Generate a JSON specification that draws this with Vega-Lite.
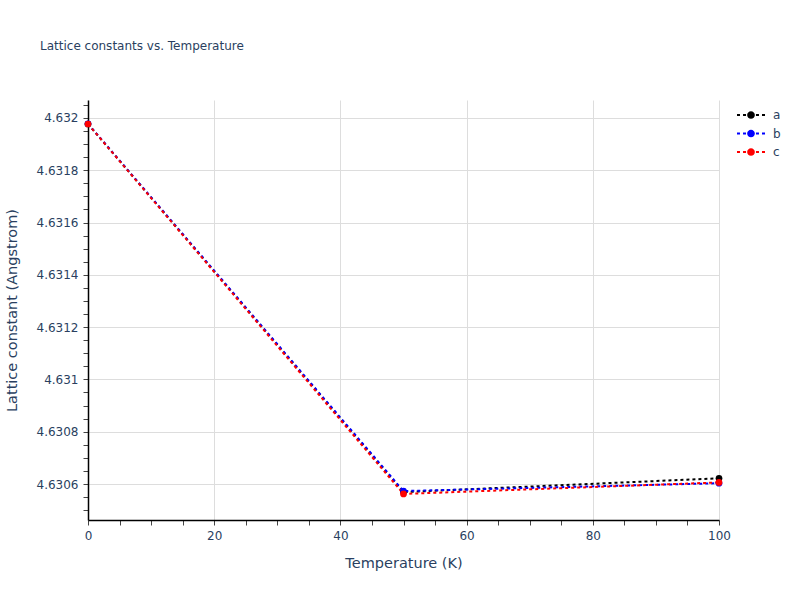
{
  "$schema": "https://vega.github.io/schema/vega-lite/v6.json",
  "width": 631,
  "height": 420,
  "autosize": "none",
  "padding": {"left": 88, "top": 100, "right": 81, "bottom": 80},
  "background": "white",
  "title": {
    "text": "Lattice constants vs. Temperature",
    "anchor": "start",
    "frame": "group",
    "dx": -48,
    "offset": 41,
    "baseline": "middle",
    "font": "DejaVu Sans",
    "fontSize": 12,
    "fontWeight": "normal",
    "color": "#2a3f5f"
  },
  "config": {
    "view": {"stroke": null},
    "font": "DejaVu Sans"
  },
  "data": {
    "values": [
      {"temperature": 0, "series": "a", "lattice": 4.631977},
      {"temperature": 50, "series": "a", "lattice": 4.630569},
      {"temperature": 100, "series": "a", "lattice": 4.630622},
      {"temperature": 0, "series": "b", "lattice": 4.631978},
      {"temperature": 50, "series": "b", "lattice": 4.630573},
      {"temperature": 100, "series": "b", "lattice": 4.630603},
      {"temperature": 0, "series": "c", "lattice": 4.631977},
      {"temperature": 50, "series": "c", "lattice": 4.630562},
      {"temperature": 100, "series": "c", "lattice": 4.630606}
    ]
  },
  "mark": {
    "type": "line",
    "strokeWidth": 2,
    "strokeDash": [3, 3],
    "clip": false,
    "point": {"filled": true, "size": 45, "opacity": 1}
  },
  "encoding": {
    "x": {
      "field": "temperature",
      "type": "quantitative",
      "scale": {"domain": [0, 100], "nice": false},
      "axis": {
        "title": "Temperature (K)",
        "values": [0, 5, 10, 15, 20, 25, 30, 35, 40, 45, 50, 55, 60, 65, 70, 75, 80, 85, 90, 95, 100],
        "labelExpr": "datum.value % 20 == 0 ? datum.label : ''",
        "labelOverlap": false,
        "labelFlush": false,
        "gridOpacity": {"condition": {"test": "datum.value % 20 == 0", "value": 1}, "value": 0},
        "gridColor": "#dddddd",
        "tickColor": "#444444",
        "tickSize": 5,
        "domainColor": "#000000",
        "domainWidth": 1.5,
        "labelFont": "DejaVu Sans",
        "labelFontSize": 12,
        "labelColor": "#2a3f5f",
        "labelPadding": 5,
        "titleFont": "DejaVu Sans",
        "titleFontSize": 14.5,
        "titleFontWeight": "normal",
        "titleColor": "#2a3f5f",
        "titleBaseline": "middle",
        "titleY": 43
      }
    },
    "y": {
      "field": "lattice",
      "type": "quantitative",
      "scale": {"domain": [4.6304623, 4.6320688], "nice": false, "zero": false},
      "axis": {
        "title": "Lattice constant (Angstrom)",
        "values": [4.6305, 4.63055, 4.6306, 4.63065, 4.6307, 4.63075, 4.6308, 4.63085, 4.6309, 4.63095, 4.631, 4.63105, 4.6311, 4.63115, 4.6312, 4.63125, 4.6313, 4.63135, 4.6314, 4.63145, 4.6315, 4.63155, 4.6316, 4.63165, 4.6317, 4.63175, 4.6318, 4.63185, 4.6319, 4.63195, 4.632, 4.63205],
        "format": "~g",
        "labelExpr": "round(datum.value * 100000) % 20 == 0 ? datum.label : ''",
        "labelOverlap": false,
        "labelFlush": false,
        "gridOpacity": {"condition": {"test": "round(datum.value * 100000) % 20 == 0", "value": 1}, "value": 0},
        "gridColor": "#dddddd",
        "tickColor": "#444444",
        "tickSize": 5,
        "domainColor": "#000000",
        "domainWidth": 1.5,
        "labelFont": "DejaVu Sans",
        "labelFontSize": 12,
        "labelColor": "#2a3f5f",
        "labelPadding": 5,
        "titleFont": "DejaVu Sans",
        "titleFontSize": 14.5,
        "titleFontWeight": "normal",
        "titleColor": "#2a3f5f",
        "titleBaseline": "middle",
        "titleX": -76,
        "titleY": 210
      }
    },
    "color": {
      "field": "series",
      "type": "nominal",
      "scale": {"domain": ["a", "b", "c"], "range": ["#000000", "#0000ff", "#ff0000"]},
      "legend": {
        "title": null,
        "orient": "none",
        "legendX": 663,
        "legendY": 8,
        "symbolType": "M-3,-0.14H-2.57V0.14H-3Z M-2.14,-0.14H-1.71V0.14H-2.14Z M-0.29,-0.14H0.14V0.14H-0.29Z M0.57,-0.14H1V0.14H0.57Z M-0.45,0A0.55,0.55 0 1,1 -1.55,0A0.55,0.55 0 1,1 -0.45,0Z",
        "symbolSize": 196,
        "symbolStrokeWidth": 0,
        "rowPadding": 5.5,
        "labelOffset": 8,
        "labelFont": "DejaVu Sans",
        "labelFontSize": 12,
        "labelColor": "#2a3f5f",
        "encode": {
          "symbols": {
            "update": {
              "fill": {"scale": "color", "field": "value"},
              "stroke": {"value": "transparent"},
              "strokeDash": {"value": []},
              "opacity": {"value": 1}
            }
          }
        }
      }
    }
  }
}
